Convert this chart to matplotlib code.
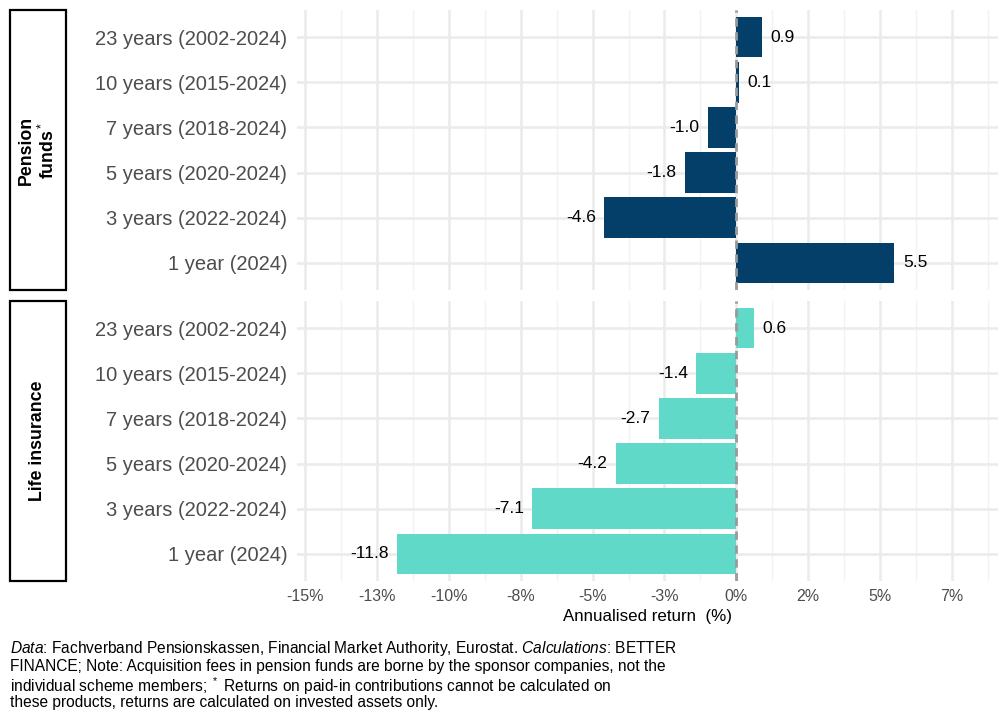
import numpy as np
import matplotlib.pyplot as plt
from matplotlib.patches import Rectangle

plt.rcParams['font.family'] = ['Liberation Sans', 'DejaVu Sans']
plt.rcParams['mathtext.fontset'] = 'custom'
plt.rcParams['mathtext.rm'] = 'Liberation Sans'
plt.rcParams['mathtext.it'] = 'Liberation Sans:italic'

# --- data ---
periods = ['1 year (2024)', '3 years (2022-2024)', '5 years (2020-2024)',
           '7 years (2018-2024)', '10 years (2015-2024)', '23 years (2002-2024)']
pension_returns = [5.5, -4.6, -1.8, -1.0, 0.1, 0.9]
life_returns = [-11.8, -7.1, -4.2, -2.7, -1.4, 0.6]
panel_names = ['Pension\nfunds$^*$', 'Life insurance']
panel_colors = ['#033F69', '#61D9C8']
x_ticks = [-15, -12.5, -10, -7.5, -5, -2.5, 0, 2.5, 5, 7.5]
x_tick_labels = ['-15%', '-13%', '-10%', '-8%', '-5%', '-3%', '0%', '2%', '5%', '7%']

W, H = 1008, 720
fig = plt.figure(figsize=(W / 100, H / 100), dpi=100)

# panel boxes in pixels (top, bottom)
panels_px = [(10, 290), (301, 581)]
left_px, right_px = 297, 998

axes = []
for (top, bot), vals, name, col in zip(panels_px, [pension_returns, life_returns],
                                       panel_names, panel_colors):
    ax = fig.add_axes([left_px / W, 1 - bot / H, (right_px - left_px) / W, (bot - top) / H])
    y = np.arange(len(periods))
    ax.barh(y, vals, height=0.9, color=col, zorder=3)
    ax.axvline(0, color='#9A9A9A', linestyle=(0, (3, 2)), linewidth=2, zorder=4)
    for yi, v in zip(y, vals):
        off = 6 if v >= 0 else -6
        ax.annotate(f'{v:.1f}', (v, yi), xytext=(off, 0), textcoords='offset points',
                    ha='left' if v >= 0 else 'right', va='center', fontsize=12.5,
                    color='black', zorder=5)
    ax.set_xlim(-15.28, 9.1)
    ax.set_ylim(-0.6, len(periods) - 0.4)
    ax.set_yticks(y)
    ax.set_yticklabels(periods, fontsize=14.5, color='#4D4D4D')
    ax.set_xticks(x_ticks)
    ax.set_xticks(np.arange(-13.75, 9.0, 2.5), minor=True)
    ax.grid(True, which='major', color='#EBEBEB', linewidth=1.8, zorder=0)
    ax.grid(True, which='minor', axis='x', color='#F2F2F2', linewidth=1.0, zorder=0)
    ax.tick_params(axis='both', which='both', length=0)
    ax.tick_params(axis='y', pad=7)
    for s in ax.spines.values():
        s.set_visible(False)
    ax.set_axisbelow(True)

    # strip on the left
    rect = Rectangle((10 / W, 1 - bot / H), 56 / W, (bot - top) / H,
                     transform=fig.transFigure, facecolor='white',
                     edgecolor='black', linewidth=1.6)
    fig.patches.append(rect)
    fig.text(38 / W, 1 - (top + bot) / 2 / H, name, rotation=90, ha='center',
             va='center', fontsize=12.8, fontweight='bold', multialignment='center',
             linespacing=1.15)
    axes.append(ax)

axes[0].set_xticklabels([])
axes[1].set_xticklabels(x_tick_labels, fontsize=11.5, color='#4D4D4D')
axes[1].tick_params(axis='x', pad=6)
axes[1].set_xlabel('Annualised return  (%)', fontsize=12.2, labelpad=3)

# caption
cap_lines = [
    (648, r'$\it{Data}$: Fachverband Pensionskassen, Financial Market Authority, Eurostat. $\it{Calculations}$: BETTER'),
    (666, 'FINANCE; Note: Acquisition fees in pension funds are borne by the sponsor companies, not the'),
    (686, r'individual scheme members; $^*$ Returns on paid-in contributions cannot be calculated on'),
    (703, 'these products, returns are calculated on invested assets only.'),
]
for ypx, txt in cap_lines:
    fig.text(10 / W, 1 - ypx / H, txt, ha='left', va='center', fontsize=11.2, color='black')

fig.savefig('out.png', dpi=100)
